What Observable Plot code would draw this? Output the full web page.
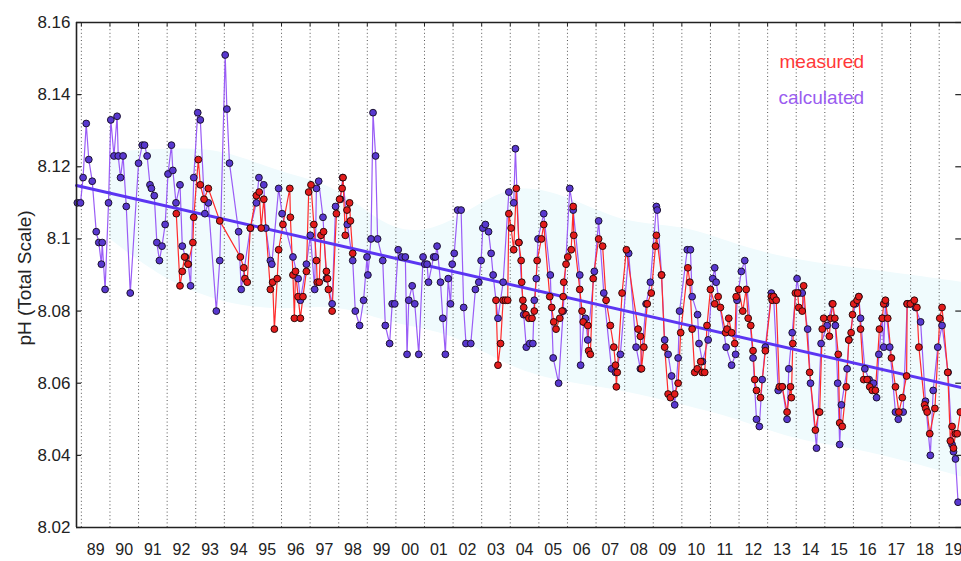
<!DOCTYPE html>
<html><head><meta charset="utf-8">
<script src="https://cdn.jsdelivr.net/npm/d3@7"></script>
<script src="https://cdn.jsdelivr.net/npm/@observablehq/plot@0.6"></script>
<style>body{margin:0;background:#fff}#chart{width:961px;height:561px}</style>
</head><body><div id="chart"></div>
<script>
// ---- data ----
const calcYear = [1988.86,1988.97,1989.06,1989.17,1989.26,1989.38,1989.52,1989.61,1989.70,1989.73,1989.83,1989.95,
1990.03,1990.14,1990.25,1990.29,1990.37,1990.46,1990.57,1990.71,1991.00,1991.13,1991.21,1991.30,1991.40,1991.45,1991.55,1991.64,1991.73,1991.82,1991.93,
1992.03,1992.15,1992.20,1992.31,1992.45,1992.53,1992.64,1992.74,1992.82,1992.93,1993.07,1993.16,1993.32,1993.44,1993.72,1993.84,
1994.03,1994.09,1994.18,1994.50,1994.59,1994.91,1995.12,1995.21,1995.38,1995.45,1995.61,1995.66,1995.90,1996.02,1996.40,1996.58,1996.66,1996.87,
1997.01,1997.16,1997.22,1997.30,1997.45,1997.57,1997.77,1997.89,1998.06,1998.14,1998.30,1998.49,1998.58,1998.73,1998.87,1998.99,
1999.02,1999.13,1999.20,1999.29,1999.36,1999.54,1999.63,1999.78,1999.87,1999.96,2000.08,2000.20,2000.33,2000.39,2000.45,2000.57,2000.66,2000.80,2000.95,
2001.01,2001.09,2001.14,2001.32,2001.38,2001.44,2001.56,2001.64,2001.73,2001.83,2001.91,2001.97,2002.04,2002.16,2002.28,2002.37,2002.45,2002.62,2002.78,2002.90,2002.98,
2003.04,2003.13,2003.24,2003.33,2003.40,2003.57,2003.75,2003.95,2004.12,2004.18,2004.30,2004.47,2004.56,2004.68,2004.79,2004.84,2004.91,2004.97,
2005.17,2005.40,2005.50,2005.69,2005.85,2006.08,2006.20,2006.43,2006.46,2006.57,2006.63,2006.71,2006.94,2007.09,2007.27,2007.54,2007.68,2007.85,
2008.14,2008.40,2008.55,2008.75,2008.90,2009.11,2009.14,2009.29,2009.40,2009.52,2009.64,2009.75,2009.87,2009.92,
2010.19,2010.30,2010.36,2010.55,2010.60,2010.72,2010.92,2011.08,2011.15,2011.20,2011.55,2011.74,2011.88,2011.93,
2012.08,2012.20,2012.49,2012.61,2012.71,2012.81,2012.92,2013.13,2013.21,2013.37,2013.51,2013.68,2013.74,2013.86,
2014.03,2014.10,2014.21,2014.40,2014.50,2014.71,2014.87,2015.08,2015.26,2015.37,2015.45,2015.52,2015.58,2015.78,2015.84,
2016.07,2016.19,2016.25,2016.40,2016.55,2016.70,2016.81,2016.89,2017.01,2017.06,2017.12,2017.27,2017.47,2017.57,2017.74,2017.88,2017.97,
2018.17,2018.35,2018.52,2018.69,2018.79,2018.95,2019.10,2019.31,2019.45,2019.50,2019.57,2019.66];
const calcPH = [8.110,8.110,8.117,8.132,8.122,8.116,8.102,8.099,8.093,8.099,8.086,8.110,
8.133,8.123,8.134,8.123,8.117,8.123,8.109,8.085,8.121,8.126,8.126,8.123,8.115,8.114,8.112,8.099,8.094,8.098,8.104,
8.118,8.126,8.119,8.110,8.115,8.098,8.095,8.093,8.087,8.117,8.135,8.133,8.107,8.110,8.080,8.094,
8.151,8.136,8.121,8.102,8.086,8.103,8.110,8.117,8.115,8.103,8.094,8.093,8.114,8.107,8.095,8.089,8.083,8.093,
8.101,8.086,8.114,8.116,8.106,8.089,8.082,8.109,8.111,8.117,8.104,8.094,8.080,8.076,8.083,8.095,
8.090,8.100,8.135,8.123,8.100,8.094,8.076,8.071,8.082,8.082,8.097,8.095,8.095,8.068,8.083,8.087,8.082,8.068,8.095,
8.093,8.093,8.088,8.095,8.095,8.098,8.088,8.078,8.068,8.089,8.082,8.093,8.096,8.108,8.108,8.081,8.071,8.071,8.086,8.088,8.094,
8.103,8.104,8.102,8.096,8.090,8.078,8.088,8.113,8.110,8.125,8.099,8.079,8.070,8.071,8.071,8.083,8.089,8.100,
8.107,8.090,8.067,8.060,8.080,8.114,8.108,8.090,8.065,8.077,8.078,8.072,8.091,8.105,8.085,8.064,8.063,8.068,
8.096,8.070,8.064,8.082,8.088,8.109,8.108,8.090,8.072,8.068,8.062,8.054,8.067,8.080,
8.097,8.097,8.084,8.079,8.071,8.066,8.072,8.089,8.092,8.088,8.070,8.065,8.068,8.083,
8.091,8.094,8.067,8.050,8.048,8.061,8.070,8.085,8.084,8.058,8.059,8.050,8.064,8.074,
8.089,8.085,8.085,8.075,8.060,8.042,8.071,8.076,8.082,8.076,8.060,8.043,8.054,8.064,8.072,
8.082,8.084,8.078,8.064,8.061,8.060,8.056,8.068,8.078,8.070,8.082,8.070,8.052,8.050,8.052,8.082,8.082,
8.081,8.077,8.055,8.040,8.058,8.070,8.076,8.063,8.043,8.041,8.039,8.027];

const measYear = [1992.32,1992.45,1992.53,1992.61,1992.73,1992.90,1992.93,1993.09,1993.16,1993.29,1993.44,1993.84,
1994.56,1994.68,1994.72,1994.80,1994.91,1995.12,1995.22,1995.29,1995.38,1995.61,1995.69,1995.75,1995.85,1995.90,
1996.05,1996.29,1996.31,1996.40,1996.45,1996.49,1996.58,1996.66,1996.75,1996.87,1996.95,1997.03,1997.13,1997.22,1997.25,1997.32,1997.38,1997.47,1997.57,1997.61,1997.64,1997.77,1997.92,
1998.03,1998.12,1998.15,1998.23,1998.29,1998.38,1998.41,1998.49,
2003.50,2003.57,2003.66,2003.75,2003.83,2003.91,2003.95,2004.03,2004.12,2004.21,2004.30,2004.38,2004.40,2004.44,2004.47,2004.55,2004.65,2004.76,2004.84,2004.94,
2005.09,2005.17,2005.38,2005.45,2005.52,2005.60,2005.73,2005.81,2005.85,2005.87,2005.95,2006.01,2006.13,2006.20,2006.22,2006.43,2006.51,2006.55,2006.71,2006.74,2006.80,2006.90,
2007.09,2007.23,2007.35,2007.50,2007.62,2007.68,2007.71,2007.74,2007.91,2008.06,2008.47,2008.55,2008.59,2008.67,2008.79,2008.93,
2009.08,2009.11,2009.29,2009.40,2009.52,2009.60,2009.75,2009.87,2009.96,2010.21,2010.28,2010.36,2010.45,2010.54,2010.66,2010.71,2010.80,2010.88,
2011.00,2011.15,2011.27,2011.35,2011.53,2011.58,2011.64,2011.74,2011.85,2011.90,2011.99,2012.13,2012.25,2012.32,2012.41,2012.49,2012.55,2012.61,2012.75,2012.92,
2013.13,2013.16,2013.21,2013.30,2013.41,2013.51,2013.68,2013.80,2013.83,2013.88,2013.97,2014.05,2014.09,2014.21,2014.26,2014.47,2014.67,2014.79,2014.82,2014.91,2014.96,
2015.16,2015.20,2015.28,2015.35,2015.47,2015.52,2015.61,2015.75,2015.84,2015.92,2015.97,2016.01,2016.13,2016.19,2016.25,2016.36,2016.48,2016.57,2016.66,2016.77,2016.91,
2017.01,2017.06,2017.12,2017.20,2017.33,2017.47,2017.59,2017.71,2017.86,2017.88,2017.99,2018.13,2018.22,2018.29,2018.49,2018.53,2018.58,2018.67,2018.85,
2019.02,2019.10,2019.30,2019.39,2019.45,2019.50,2019.57,2019.63,2019.74];
const measPH = [8.107,8.087,8.091,8.095,8.093,8.099,8.106,8.122,8.115,8.111,8.114,8.105,
8.095,8.092,8.089,8.088,8.103,8.112,8.113,8.103,8.111,8.086,8.088,8.075,8.089,8.097,
8.104,8.114,8.106,8.090,8.078,8.091,8.084,8.078,8.084,8.091,8.113,8.115,8.104,8.094,8.088,8.088,8.101,8.102,8.091,8.089,8.086,8.080,8.107,
8.111,8.114,8.117,8.101,8.108,8.110,8.105,8.096,
8.083,8.065,8.071,8.083,8.083,8.083,8.107,8.103,8.097,8.114,8.099,8.094,8.088,8.083,8.081,8.079,8.078,8.078,8.080,8.094,
8.100,8.104,8.084,8.081,8.077,8.075,8.078,8.080,8.084,8.088,8.093,8.095,8.097,8.109,8.101,8.086,8.080,8.077,8.076,8.069,8.068,8.089,
8.100,8.098,8.083,8.076,8.070,8.065,8.059,8.063,8.085,8.097,8.075,8.073,8.064,8.070,8.082,8.085,
8.098,8.101,8.090,8.070,8.057,8.056,8.057,8.060,8.074,8.092,8.088,8.075,8.063,8.064,8.066,8.063,8.063,8.076,
8.086,8.082,8.084,8.081,8.074,8.075,8.078,8.074,8.071,8.084,8.086,8.080,8.086,8.078,8.076,8.069,8.061,8.058,8.056,8.069,
8.084,8.083,8.084,8.083,8.059,8.059,8.052,8.059,8.056,8.071,8.085,8.085,8.081,8.080,8.087,8.063,8.047,8.052,8.052,8.075,8.078,
8.073,8.078,8.082,8.078,8.068,8.049,8.048,8.059,8.072,8.074,8.079,8.082,8.083,8.084,8.075,8.061,8.061,8.059,8.058,8.058,8.075,
8.078,8.082,8.083,8.078,8.067,8.059,8.052,8.056,8.062,8.082,8.082,8.083,8.081,8.070,8.054,8.053,8.052,8.046,8.053,
8.078,8.081,8.063,8.044,8.048,8.042,8.046,8.046,8.052];

// linear trend (end points)
const trendYear = [1988.83, 2019.78];
const trendPH = [8.1148, 8.0588];

// faint cyan envelope behind the data
const bandYear = [1990.0,1992.0,1994.0,1996.0,1998.0,2000.0,2002.0,2004.0,2006.0,2008.0,2010.0,2012.0,2014.0,2016.0,2018.0,2019.78];
const bandHi   = [8.124,8.125,8.125,8.118,8.115,8.100,8.104,8.116,8.112,8.104,8.104,8.098,8.094,8.092,8.090,8.088];
const bandLo   = [8.100,8.088,8.082,8.080,8.082,8.076,8.074,8.064,8.060,8.058,8.054,8.050,8.044,8.042,8.038,8.034];

const yTicks = [8.02,8.04,8.06,8.08,8.10,8.12,8.14,8.16];
const yTickLabels = ["8.02","8.04","8.06","8.08","8.1","8.12","8.14","8.16"];
const gridYears = d3.range(1989, 2020);
const labelYears = d3.range(1989, 2020).map(y => y + 0.5);
const yearLabels = ["89","90","91","92","93","94","95","96","97","98","99","00","01","02","03","04","05","06","07","08","09","10","11","12","13","14","15","16","17","18","19"];
const legendItems = ["measured", "calculated"];

// ---- build tables ----
const xMin = trendYear[0], xMax = trendYear[1];
const calc = calcYear.map((x, i) => ({x, y: calcPH[i]}));
const meas = measYear.map((x, i) => ({x, y: measPH[i], seg: x < 2000 ? 1 : 2}));
const trend = trendYear.map((x, i) => ({x, y: trendPH[i]}));
const band = bandYear.map((x, i) => ({x, lo: bandLo[i], hi: bandHi[i]}));
const FONT = "'Liberation Sans', Arial, Helvetica, sans-serif";

const chart = Plot.plot({
  width: 961, height: 561,
  marginLeft: 76, marginRight: 0, marginTop: 22, marginBottom: 34,
  x: {domain: [xMin, xMax]},
  y: {domain: [8.02, 8.16]},
  style: {fontFamily: FONT, background: "#fff", color: "#222", overflow: "visible"},
  marks: [
    Plot.areaY(band, {x: "x", y1: "lo", y2: "hi", fill: "#f0fbfd", curve: "basis"}),
    Plot.ruleX(gridYears, {y1: 8.02, y2: 8.16, stroke: "#555", strokeWidth: 1, strokeDasharray: "1,2.6"}),
    Plot.line(calc, {x: "x", y: "y", stroke: "#9a5cf6", strokeWidth: 1.2}),
    Plot.line(meas, {x: "x", y: "y", z: "seg", stroke: "#ff2b2b", strokeWidth: 1.2}),
    Plot.line(trend, {x: "x", y: "y", stroke: "#5b35f2", strokeWidth: 3}),
    Plot.dot(calc, {x: "x", y: "y", r: 3.4, fill: "#5838cf", stroke: "#1c1230", strokeWidth: 1}),
    Plot.dot(meas, {x: "x", y: "y", r: 3.4, fill: "#e31b1b", stroke: "#2c0a0a", strokeWidth: 1}),
    // axis lines and inward ticks
    Plot.ruleY([8.02, 8.16], {stroke: "#222", strokeWidth: 1.6}),
    Plot.ruleX([xMin], {stroke: "#222", strokeWidth: 1.6}),
    Plot.ruleY(yTicks, {x1: xMin, x2: xMin + 0.18, stroke: "#222", strokeWidth: 1.2}),
    Plot.ruleY(yTicks, {x1: xMax - 0.2, x2: xMax, stroke: "#222", strokeWidth: 1.2}),
    Plot.ruleX(gridYears, {y1: 8.16, y2: 8.1588, stroke: "#222", strokeWidth: 1}),
    Plot.axisY(yTicks, {tickSize: 0, tickPadding: 6, fontSize: 17, fill: "#222",
      tickFormat: d => yTickLabels[yTicks.indexOf(d)], label: null}),
    Plot.axisX(labelYears, {tickSize: 0, tickPadding: 16, fontSize: 16, fill: "#222",
      tickFormat: d => yearLabels[labelYears.indexOf(d)], label: null}),
    Plot.text([legendItems[0]], {frameAnchor: "top-left", dx: 703, dy: 39, text: d => d,
      textAnchor: "start", lineAnchor: "middle", fill: "#ff3838", fontSize: 19}),
    Plot.text([legendItems[1]], {frameAnchor: "top-left", dx: 702, dy: 75, text: d => d,
      textAnchor: "start", lineAnchor: "middle", fill: "#9a5cf0", fontSize: 19}),
    Plot.text(["pH (Total Scale)"], {frameAnchor: "left", dx: -46, dy: 3, rotate: -90,
      lineAnchor: "bottom", textAnchor: "middle", text: d => d, fill: "#222", fontSize: 19})
  ]
});
document.getElementById("chart").appendChild(chart);
</script>
</body></html>
